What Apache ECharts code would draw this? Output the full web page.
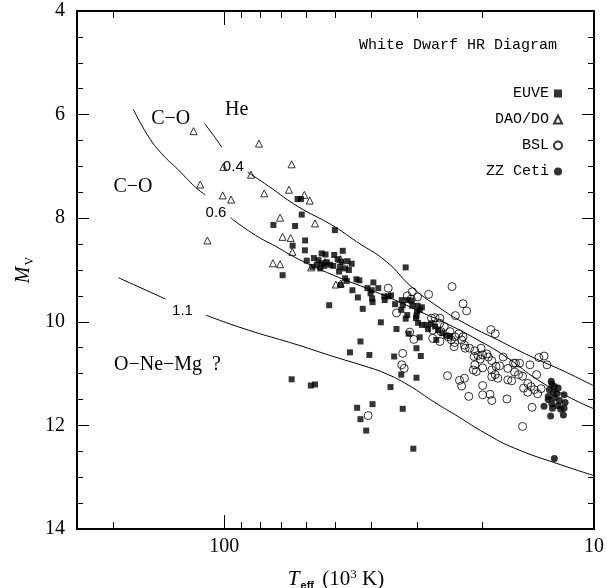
<!DOCTYPE html>
<html>
<head>
<meta charset="utf-8">
<script src="https://cdn.jsdelivr.net/npm/echarts@6/dist/echarts.min.js"></script>
<style>
  html, body { margin: 0; padding: 0; background: #fff; }
  #chart { width: 607px; height: 588px; }
</style>
</head>
<body>
<div id="chart"></div>
<script>
// Teff in 10^3 K, absolute magnitude Mv
const euve = [
  [73.6,8.13],[69.5,9.10],[63.3,7.63],[62.0,7.63],[61.7,7.93],[64.3,8.15],[50.2,8.23],[60.4,8.43],[65.3,8.53],[60.5,8.62],[59.8,8.82],
  [57.2,8.77],[55.6,8.81],[56.2,8.90],[54.5,8.87],[52.8,8.85],[51.7,8.90],[54.5,8.68],[53.2,8.70],[50.4,8.71],[49.3,8.79],[47.8,8.63],
  [48.1,8.84],[46.4,8.83],[45.2,8.88],[48.6,8.94],[47.1,8.97],[46.0,9.00],[48.9,9.03],[50.7,8.92],[57.7,8.94],[53.7,8.92],[55.0,8.97],
  [47.1,9.16],[46.6,9.21],[43.9,9.18],[43.1,9.20],[45.0,9.39],[48.4,9.29],[41.0,9.35],[39.9,9.39],[39.5,9.24],[38.3,9.35],[40.2,9.45],
  [39.8,9.55],[39.7,9.62],[43.5,9.53],[36.9,9.51],[36.0,9.51],[35.4,9.49],[36.8,9.58],[52.0,9.68],[42.2,9.75],[34.5,9.66],[33.1,9.58],
  [32.9,9.68],[33.2,9.77],[31.9,9.58],[31.2,9.59],[31.0,9.69],[30.0,9.69],[29.2,9.72],[32.0,9.87],[32.3,9.94],[30.1,9.80],[30.3,9.93],
  [29.6,9.77],[29.9,10.02],[37.7,10.01],[34.2,10.14],[31.7,10.23],[29.6,10.30],[30.2,10.51],[29.4,10.66],[42.8,10.38],[45.7,10.59],
  [40.5,10.64],[34.7,10.67],[33.2,11.02],[30.2,11.08],[35.5,11.26],[43.7,11.66],[39.7,11.59],[42.8,11.88],[41.3,12.10],[32.9,11.68],
  [30.8,12.45],[65.7,11.11],[58.3,11.23],[56.8,11.21],[32.3,8.95],[28.4,10.06],[27.5,10.03],[28.1,10.14],[26.9,10.09],[26.4,10.16],
  [25.7,10.22],[25.1,10.27],[24.5,10.28],[30.2,9.88],[29.2,10.06],[26.7,10.35]
];
const daoDo = [
  [121,6.32],[80.5,6.56],[100.5,7.01],[65.7,6.96],[84.6,7.16],[116.1,7.35],[66.8,7.45],[77.9,7.52],[100.9,7.56],[95.8,7.64],
  [60.7,7.55],[58.7,7.66],[70.6,7.99],[56.8,8.10],[111.0,8.43],[69.5,8.36],[66.1,8.38],[65.4,8.65],[73.8,8.87],[70.6,8.89],
  [58.2,8.95],[49.9,9.28],[48.4,9.26],[53.4,8.85],[48.5,8.79]
];
const bsl = [
  [24.2,9.32],[36.0,9.35],[31.0,9.42],[32.0,9.50],[31.2,9.56],[30.0,9.52],[28.0,9.47],[22.6,9.65],[22.1,9.79],[23.7,9.88],
  [34.2,9.83],[27.5,9.93],[26.9,9.92],[26.1,9.93],[31.5,10.20],[30.7,10.34],[27.3,10.16],[27.3,10.32],[26.1,10.38],[23.2,10.23],
  [22.6,10.29],[23.9,10.48],[22.3,10.51],[21.7,10.51],[19.0,10.15],[18.5,10.23],[20.2,10.51],[20.0,10.64],[19.5,10.62],[19.3,10.68],
  [21.1,10.67],[20.6,10.65],[32.9,10.61],[33.1,10.83],[32.6,10.90],[24.9,11.04],[23.1,11.13],[22.4,11.09],[22.8,11.24],[21.8,11.44],
  [20.0,11.23],[20.0,11.41],[19.1,11.40],[18.9,11.52],[20.0,10.89],[18.4,10.86],[18.0,10.85],[18.9,10.93],[18.5,11.02],[18.2,11.09],
  [17.6,10.68],[17.1,10.90],[16.5,10.80],[16.3,10.80],[15.9,10.80],[16.4,10.97],[16.0,11.02],[17.1,11.12],[16.7,11.14],[17.2,11.49],
  [15.6,11.05],[15.1,11.19],[14.8,11.25],[15.5,11.28],[15.1,11.36],[14.3,11.02],[14.9,10.83],[14.1,10.69],[13.65,10.66],[13.4,10.83],
  [14.5,11.31],[14.2,11.39],[13.9,11.29],[14.7,11.65],[15.6,12.02],[40.8,11.81],[21.0,10.83],[21.2,10.93],[20.8,10.96],[18.9,11.06],
  [18.9,10.75],[20.3,10.72],[21.0,10.56],[22.4,10.45],[22.8,10.35],[23.8,10.29],[24.8,10.29],[24.3,10.35],[25.9,10.19],[26.1,10.03],
  [25.4,10.09],[24.5,10.19],[23.8,10.40]
];
const zzCeti = [
  [13.0,11.20],[12.8,11.25],[12.5,11.28],[13.2,11.31],[12.9,11.36],[12.6,11.39],[12.05,11.41],[13.3,11.44],[12.8,11.47],[12.4,11.52],
  [11.97,11.56],[13.65,11.63],[13.0,11.58],[12.5,11.62],[12.05,11.67],[13.1,11.82],[12.1,11.80],[12.95,11.67],[12.3,11.69],[13.3,11.50],
  [12.8,12.64],[13.05,11.15]
];

// cooling tracks (split where the labels sit)
const track04a = [[113.1,6.17],[106.9,6.40],[101.5,6.63]];
const track04b = [[86.4,7.11],[75.9,7.38],[63.0,7.78],[51.2,8.13],[43.9,8.45],[36.4,8.84],[31.2,9.32],[26.4,9.71],[22.35,10.03],[18.2,10.35],[14.8,10.67],[12.0,10.96],[10,11.24]];
const track06a = [[176,5.90],[160,6.43],[147.7,6.75],[132.9,7.07],[119.6,7.40],[112.4,7.55]];
const track06b = [[96.2,7.99],[82.3,8.33],[72.7,8.54],[63.0,8.79],[50.7,9.10],[41.3,9.35],[34.5,9.58],[29.0,9.83],[25.6,10.00],[20.6,10.35],[17.1,10.70],[14.2,11.12],[11.5,11.48],[10,11.68]];
const track11a = [[193,9.15],[144.1,9.56]];
const track11b = [[112.2,9.87],[87.8,10.14],[63.0,10.45],[51.2,10.66],[41.5,10.86],[36.8,10.99],[31.8,11.22],[26.9,11.56],[23.3,11.83],[19.7,12.15],[16.4,12.44],[12.3,12.76],[10,12.97]];

// axis ticks
const xLabels = [10, 100];
const xMajorTicks = [10, 100];
const xMinorTicks = [20, 30, 40, 50, 60, 70, 80, 90, 200];

const serif = 'Liberation Serif';
const mono = 'Liberation Mono';

const chart = echarts.init(document.getElementById('chart'));

function xAxisDef(position, ticks, len, withLabels, withLine) {
  return {
    type: 'log', logBase: 10, min: 10, max: 250, inverse: true, position: position,
    axisLine: { show: withLine, lineStyle: { color: '#000', width: 2 } },
    axisTick: { show: true, inside: true, length: len, customValues: ticks, lineStyle: { color: '#000', width: 1 } },
    axisLabel: withLabels ? { show: true, customValues: xLabels, margin: 8, color: '#000', fontFamily: serif, fontSize: 20 } : { show: false },
    splitLine: { show: false }
  };
}

function yAxisDef(position, withLabels) {
  return {
    type: 'value', min: 4, max: 14, interval: 2, inverse: true, position: position,
    axisLine: { show: true, lineStyle: { color: '#000', width: 2 } },
    axisTick: { show: true, inside: true, length: 12, lineStyle: { color: '#000', width: 1 } },
    minorTick: { show: true, splitNumber: 4, length: 6, lineStyle: { color: '#000', width: 1 } },
    axisLabel: withLabels ? { show: true, margin: 12, color: '#000', fontFamily: serif, fontSize: 20 } : { show: false },
    splitLine: { show: false },
    minorSplitLine: { show: false }
  };
}

function track(data) {
  return {
    type: 'line', data: data, smooth: true, showSymbol: false, silent: true,
    lineStyle: { color: '#000', width: 1 }, z: 1
  };
}

const hollow = { color: 'rgba(0,0,0,0)', borderColor: '#000', borderWidth: 1 };

const option = {
  animation: false,
  backgroundColor: '#fff',
  grid: { left: 77, right: 11, top: 11, bottom: 59 },
  xAxis: [
    xAxisDef('bottom', xMajorTicks, 14, true, true),
    xAxisDef('bottom', xMinorTicks, 7, false, false),
    xAxisDef('top', xMajorTicks, 14, false, true),
    xAxisDef('top', xMinorTicks, 7, false, false)
  ],
  yAxis: [yAxisDef('left', true), yAxisDef('right', false)],
  legend: {
    data: ['EUVE', 'DAO/DO', 'BSL', 'ZZ Ceti'],
    orient: 'vertical', right: 39, top: 81, align: 'right',
    itemWidth: 8, itemHeight: 8, itemGap: 11,
    textStyle: { fontFamily: mono, fontSize: 15, color: '#000' }
  },
  series: [
    { name: 'EUVE', type: 'scatter', data: euve, symbol: 'rect', symbolSize: 6, itemStyle: { color: '#000' } },
    { name: 'DAO/DO', type: 'scatter', data: daoDo, symbol: 'triangle', symbolSize: 7, itemStyle: hollow },
    { name: 'BSL', type: 'scatter', data: bsl, symbol: 'circle', symbolSize: 8, itemStyle: hollow },
    { name: 'ZZ Ceti', type: 'scatter', data: zzCeti, symbol: 'circle', symbolSize: 7, itemStyle: { color: '#000' } },
    track(track04a), track(track04b), track(track06a), track(track06b), track(track11a), track(track11b)
  ],
  graphic: [
    { type: 'text', x: 557, y: 45, style: { text: 'White Dwarf HR Diagram', font: '15px "Liberation Mono"', fill: '#000', align: 'right', verticalAlign: 'middle' } },
    { type: 'text', x: 170.7, y: 119, style: { text: 'C\u2212O', font: '20px "Liberation Serif"', fill: '#000', align: 'center', verticalAlign: 'middle' } },
    { type: 'text', x: 236.7, y: 109.3, style: { text: 'He', font: '20px "Liberation Serif"', fill: '#000', align: 'center', verticalAlign: 'middle' } },
    { type: 'text', x: 133, y: 186.7, style: { text: 'C\u2212O', font: '20px "Liberation Serif"', fill: '#000', align: 'center', verticalAlign: 'middle' } },
    { type: 'text', x: 114, y: 364.3, style: { text: 'O\u2212Ne\u2212Mg  ?', font: '20px "Liberation Serif"', fill: '#000', align: 'left', verticalAlign: 'middle' } },
    { type: 'text', x: 233.3, y: 166.7, style: { text: '0.4', font: '15px "Liberation Sans"', fill: '#000', align: 'center', verticalAlign: 'middle' } },
    { type: 'text', x: 216, y: 212.7, style: { text: '0.6', font: '15px "Liberation Sans"', fill: '#000', align: 'center', verticalAlign: 'middle' } },
    { type: 'text', x: 182.5, y: 310.7, style: { text: '1.1', font: '15px "Liberation Sans"', fill: '#000', align: 'center', verticalAlign: 'middle' } },
    {
      type: 'text', x: 336, y: 579,
      style: {
        text: '{t|T}{s|eff}{n| (10}{p|3}{n| K)}', fill: '#000', align: 'center', verticalAlign: 'middle',
        rich: {
          t: { fontFamily: serif, fontStyle: 'italic', fontSize: 21, lineHeight: 21, verticalAlign: 'top' },
          s: { fontFamily: 'Liberation Sans', fontWeight: 'bold', fontSize: 11, lineHeight: 11, padding: [12, 3, 0, 1], verticalAlign: 'top' },
          n: { fontFamily: serif, fontSize: 21, lineHeight: 21, verticalAlign: 'top' },
          p: { fontFamily: serif, fontSize: 13, lineHeight: 13, verticalAlign: 'top' }
        }
      }
    },
    {
      type: 'text', x: 24, y: 270, rotation: Math.PI / 2,
      style: {
        text: '{t|M}{s|V}', fill: '#000', align: 'center', verticalAlign: 'middle',
        rich: {
          t: { fontFamily: serif, fontStyle: 'italic', fontSize: 20, lineHeight: 20, verticalAlign: 'top' },
          s: { fontFamily: serif, fontSize: 12, lineHeight: 12, padding: [10, 0, 0, 1], verticalAlign: 'top' }
        }
      }
    }
  ]
};

chart.setOption(option);
</script>
</body>
</html>
